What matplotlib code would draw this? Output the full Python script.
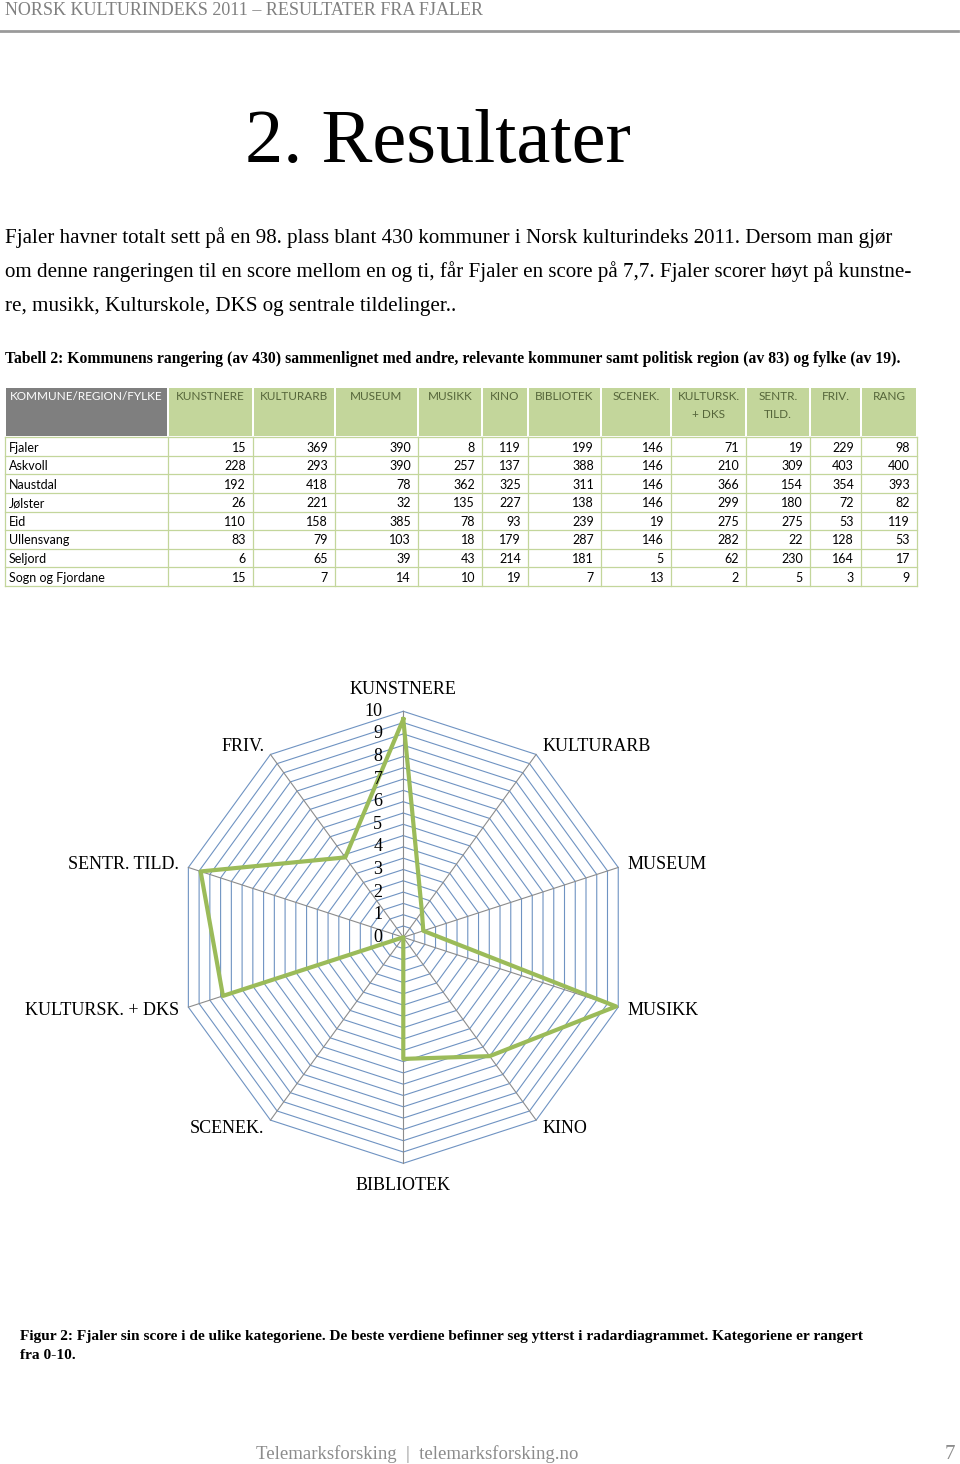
import matplotlib
matplotlib.use("Agg")
import matplotlib.pyplot as plt
from matplotlib.patches import Rectangle
import numpy as np

SERIF = ["Liberation Serif", "DejaVu Serif"]
SANS = ["Lato", "DejaVu Sans"]

# --- page text ---
header_text = "NORSK KULTURINDEKS 2011 – RESULTATER FRA FJALER"
title_text = "2. Resultater"
intro_lines = [
    "Fjaler havner totalt sett på en 98. plass blant 430 kommuner i Norsk kulturindeks 2011. Dersom man gjør",
    "om denne rangeringen til en score mellom en og ti, får Fjaler en score på 7,7. Fjaler scorer høyt på kunstne-",
    "re, musikk, Kulturskole, DKS og sentrale tildelinger..",
]
table_caption = ("Tabell 2: Kommunens rangering (av 430) sammenlignet med andre, relevante kommuner "
                 "samt politisk region (av 83) og fylke (av 19).")
figure_caption = [
    "Figur 2: Fjaler sin score i de ulike kategoriene. De beste verdiene befinner seg ytterst i "
    "radardiagrammet. Kategoriene er rangert",
    "fra 0-10.",
]
footer_text = "Telemarksforsking  |  telemarksforsking.no"
page_number = "7"

# --- table data ---
table_columns = ["KOMMUNE/REGION/FYLKE", "KUNSTNERE", "KULTURARB", "MUSEUM", "MUSIKK", "KINO",
                 "BIBLIOTEK", "SCENEK.", "KULTURSK.\n+ DKS", "SENTR.\nTILD.", "FRIV.", "RANG"]
municipalities = ["Fjaler", "Askvoll", "Naustdal", "Jølster", "Eid", "Ullensvang", "Seljord",
                  "Sogn og Fjordane"]
fjaler = [15, 369, 390, 8, 119, 199, 146, 71, 19, 229, 98]
askvoll = [228, 293, 390, 257, 137, 388, 146, 210, 309, 403, 400]
naustdal = [192, 418, 78, 362, 325, 311, 146, 366, 154, 354, 393]
jolster = [26, 221, 32, 135, 227, 138, 146, 299, 180, 72, 82]
eid = [110, 158, 385, 78, 93, 239, 19, 275, 275, 53, 119]
ullensvang = [83, 79, 103, 18, 179, 287, 146, 282, 22, 128, 53]
seljord = [6, 65, 39, 43, 214, 181, 5, 62, 230, 164, 17]
sogn_og_fjordane = [15, 7, 14, 10, 19, 7, 13, 2, 5, 3, 9]
table_rows = [fjaler, askvoll, naustdal, jolster, eid, ullensvang, seljord, sogn_og_fjordane]

# --- radar data ---
radar_categories = ["KUNSTNERE", "KULTURARB", "MUSEUM", "MUSIKK", "KINO", "BIBLIOTEK",
                    "SCENEK.", "KULTURSK. + DKS", "SENTR. TILD.", "FRIV."]
fjaler_scores = [9.65, 1.4, 0.93, 9.9, 6.5, 5.38, 0.0, 8.39, 9.43, 4.37]
scale_ticks = list(range(0, 11))

# --- layout (page pixels) ---
W, H = 960, 1464
col_edges = [5, 168, 253, 335, 418, 482, 528, 601, 671, 746, 810, 861, 917]
head_top, head_bottom = 388, 437.3
row_h = 18.57
radar_cx, radar_cy, radar_r = 403.3, 937.3, 226

GRAY_HEAD = "#7F7F7F"
GREEN_HEAD = "#C3D69B"
GREEN_TEXT = "#55653A"
RING = "#6F93C2"
SPOKE = "#8C8C8C"
LINE = "#9BBB59"

fig = plt.figure(figsize=(W / 100, H / 100), dpi=100)
page = fig.add_axes([0, 0, 1, 1])
page.set_xlim(0, W)
page.set_ylim(H, 0)
page.axis("off")

# running header
page.text(5, 15, header_text, family=SERIF, fontsize=13, color="#808080", va="baseline")
page.plot([0, 958], [31, 31], color="#9A9A9A", lw=2)

page.text(438, 162, title_text, family=SERIF, fontsize=55, ha="center", va="baseline")
for i, line in enumerate(intro_lines):
    page.text(5, 243 + 34 * i, line, family=SERIF, fontsize=15.1, va="baseline")
page.text(5, 363, table_caption, family=SERIF, fontsize=11.3, fontweight="bold", va="baseline")

# table header
for i, label in enumerate(table_columns):
    x0, x1 = col_edges[i], col_edges[i + 1]
    fill = GRAY_HEAD if i == 0 else GREEN_HEAD
    page.add_patch(Rectangle((x0 + 1, head_top), x1 - x0 - 2, head_bottom - head_top - 1,
                             facecolor=fill, edgecolor="none"))
    color = "white" if i == 0 else GREEN_TEXT
    for k, part in enumerate(label.split("\n")):
        page.text((x0 + x1) / 2, 397 + 17 * k, part, family=SANS, fontsize=8.5,
                  color=color, ha="center", va="center")

# table body
n_rows = len(table_rows)
body_bottom = head_bottom + row_h * n_rows
for x in col_edges:
    page.plot([x, x], [head_bottom, body_bottom], color=GREEN_HEAD, lw=0.9)
for r in range(n_rows + 1):
    y = head_bottom + row_h * r
    page.plot([col_edges[0], col_edges[-1]], [y, y], color=GREEN_HEAD, lw=0.9)
for r, (name, values) in enumerate(zip(municipalities, table_rows)):
    yc = head_bottom + row_h * (r + 0.5) + 1
    page.text(col_edges[0] + 4, yc, name, family=SANS, fontsize=9, va="center")
    for c, v in enumerate(values):
        page.text(col_edges[c + 2] - 7, yc, str(v), family=SANS, fontsize=9,
                  ha="right", va="center")

# captions and footer
for i, line in enumerate(figure_caption):
    page.text(20, 1340 + 19 * i, line, family=SERIF, fontsize=11.1, fontweight="bold",
              va="baseline")
page.text(417, 1459, footer_text, family=SERIF, fontsize=13.5, color="#8C8C8C",
          ha="center", va="baseline")
page.text(950, 1459, page_number, family=SERIF, fontsize=15, color="#8C8C8C",
          ha="center", va="baseline")

# radar chart
ax = fig.add_axes([(radar_cx - radar_r) / W, (H - radar_cy - radar_r) / H,
                   2 * radar_r / W, 2 * radar_r / H], projection="polar")
ax.set_theta_zero_location("N")
ax.set_theta_direction(-1)
ax.set_ylim(0, 10)
ax.axis("off")

n = len(radar_categories)
angles = np.linspace(0, 2 * np.pi, n, endpoint=False)
closed = np.append(angles, angles[0])

for k in range(1, 21):
    ring = k * 0.5
    ax.plot(closed, [ring] * (n + 1), color=RING, lw=0.8, clip_on=False)
for a in angles:
    ax.plot([a, a], [0, 10], color=SPOKE, lw=0.8, clip_on=False)

for v in scale_ticks:
    ax.annotate(str(v), xy=(0, v), xytext=(-21, 0), textcoords="offset pixels",
                ha="right", va="center", family=SERIF, fontsize=13)

for a, name in zip(angles, radar_categories):
    s, c = np.sin(a), np.cos(a)
    if abs(s) < 0.01:
        dx, dy, ha = 0, 22 * c, "center"
    else:
        dx, dy, ha = 10 * s, 10 * c, ("left" if s > 0 else "right")
    ax.annotate(name, xy=(a, 10), xytext=(dx, dy), textcoords="offset pixels",
                ha=ha, va="center", family=SERIF, fontsize=13, annotation_clip=False)

ax.plot(closed, np.append(fjaler_scores, fjaler_scores[0]), color=LINE, lw=3,
        clip_on=False)

fig.savefig("out.png", dpi=100)
